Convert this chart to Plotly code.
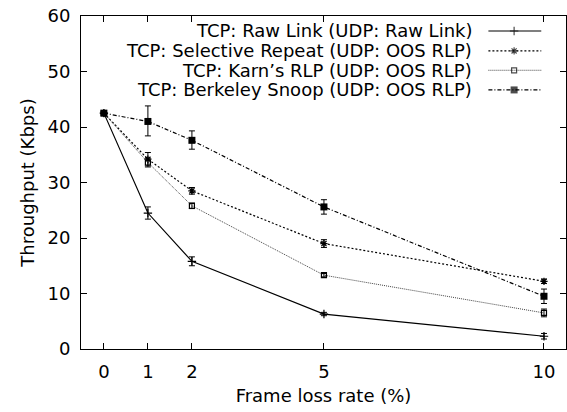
import plotly.graph_objects as go

loss = [0, 1, 2, 5, 10]
names = ["TCP: Raw Link (UDP: Raw Link)",
         "TCP: Selective Repeat (UDP: OOS RLP)",
         "TCP: Karn\u2019s RLP (UDP: OOS RLP)",
         "TCP: Berkeley Snoop (UDP: OOS RLP)"]
raw = [42.5, 24.5, 15.8, 6.3, 2.3]
raw_hi = [0.3, 1.1, 0.8, 0.3, 0.5]
raw_lo = [0.3, 1.1, 0.8, 0.3, 0.5]
sel = [42.5, 34.2, 28.5, 19.0, 12.2]
sel_hi = [0.3, 1.2, 0.6, 0.7, 0.4]
sel_lo = [0.3, 1.2, 0.6, 0.7, 0.4]
karn = [42.5, 33.6, 25.8, 13.3, 6.5]
karn_hi = [0.3, 0.8, 0.5, 0.3, 0.7]
karn_lo = [0.3, 0.8, 0.5, 0.3, 0.7]
snoop = [42.5, 41.0, 37.6, 25.6, 9.5]
snoop_hi = [0.3, 2.8, 1.7, 1.3, 1.3]
snoop_lo = [0.3, 2.6, 1.6, 1.3, 1.3]

xticks = [0, 1, 2, 5, 10]
yticks = [0, 10, 20, 30, 40, 50, 60]

FONT = "DejaVu Sans"

series = [
    (raw, raw_hi, raw_lo, dict(color="black", width=1.2, dash="solid"),
     dict(symbol="cross-thin", size=6, line=dict(width=1.2, color="black"))),
    (sel, sel_hi, sel_lo, dict(color="black", width=1.2, dash="2px,2px"),
     dict(symbol="asterisk", size=6, line=dict(width=1.2, color="black"))),
    (karn, karn_hi, karn_lo, dict(color="#444444", width=1, dash="1px,1px"),
     dict(symbol="square-open", size=5, line=dict(width=1.2, color="black"))),
    (snoop, snoop_hi, snoop_lo, dict(color="black", width=1.2, dash="4px,2px,1px,2px"),
     dict(symbol="square", size=7, line=dict(width=0))),
]

fig = go.Figure()
for (vals, hi, lo, line, marker), name in zip(series, names):
    fig.add_trace(go.Scatter(
        x=loss, y=vals, mode="lines+markers", name=name, line=line,
        marker=dict(color="black", symbol=marker["symbol"], size=marker["size"],
                    line=marker["line"]),
        error_y=dict(type="data", symmetric=False, array=hi, arrayminus=lo,
                     thickness=1, width=3, color="black"),
        showlegend=False, cliponaxis=False,
    ))

# custom legend (text right-aligned, sample to the right) on overlay axes
leg_y = [0.955, 0.895, 0.837, 0.778]
sx0, sxm, sx1 = 0.840, 0.893, 0.949
text_x = 0.811
for (vals, hi, lo, line, marker), name, yy in zip(series, names, leg_y):
    fig.add_trace(go.Scatter(
        x=[sx0, sxm, sx1], y=[yy, yy, yy], xaxis="x2", yaxis="y2",
        mode="lines+markers", line=line,
        marker=dict(color="black", symbol=marker["symbol"],
                    size=[0, marker["size"], 0], line=marker["line"]),
        showlegend=False, hoverinfo="skip", cliponaxis=False,
    ))
    fig.add_annotation(x=text_x, y=yy, xref="x2", yref="y2", text=name,
                       showarrow=False, xanchor="right", yanchor="middle",
                       font=dict(size=18, color="black", family=FONT))

fig.update_layout(
    width=567, height=412,
    margin=dict(l=81, r=1, t=16, b=63),
    paper_bgcolor="white", plot_bgcolor="white",
    font=dict(family=FONT, size=18, color="black"),
    showlegend=False,
    xaxis=dict(range=[-0.52, 10.5], tickvals=xticks, ticks="inside", ticklen=6,
               tickcolor="black", showline=True, linecolor="black", linewidth=1,
               mirror="ticks", showgrid=False, zeroline=False,
               ticklabelstandoff=6,
               title=dict(text="Frame loss rate (%)", standoff=8, font=dict(size=18))),
    yaxis=dict(range=[0, 60], tickvals=yticks, ticks="inside", ticklen=6,
               tickcolor="black", showline=True, linecolor="black", linewidth=1,
               mirror="ticks", showgrid=False, zeroline=False,
               ticklabelstandoff=6,
               title=dict(text="Throughput (Kbps)", standoff=8, font=dict(size=18))),
    xaxis2=dict(range=[0, 1], overlaying="x", visible=False, fixedrange=True),
    yaxis2=dict(range=[0, 1], overlaying="y", visible=False, fixedrange=True),
)

fig.write_html("out.html")
